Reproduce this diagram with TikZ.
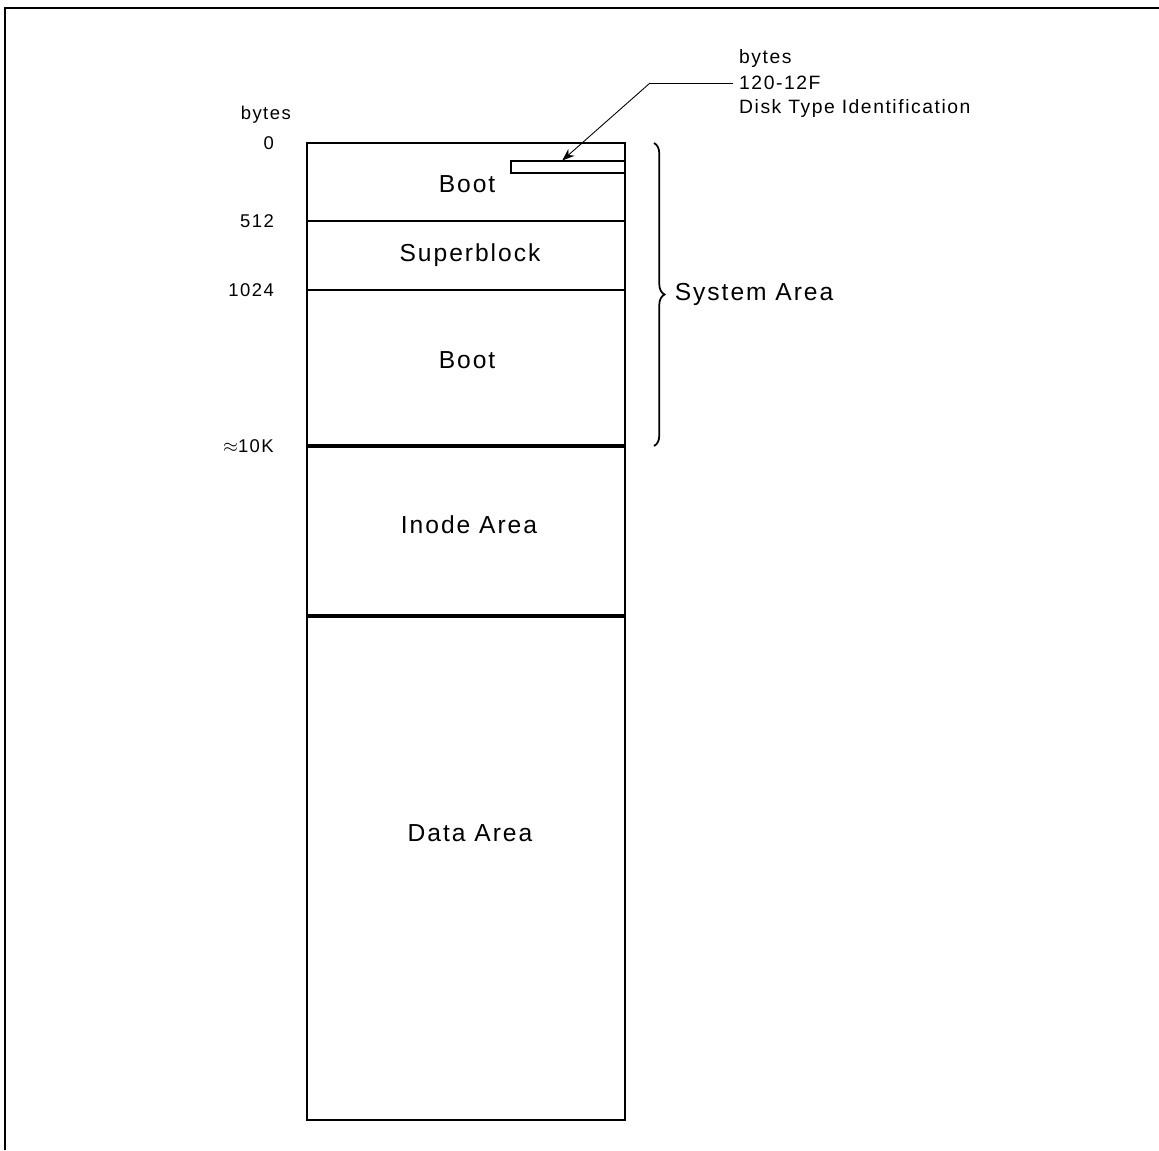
\documentclass[tikz,border=0pt]{standalone}
\usepackage{fontspec}
\setmainfont{Liberation Sans}[LetterSpace=8]
\usepackage{tikz}
\usetikzlibrary{calc,arrows.meta,decorations.pathreplacing}

\begin{document}
\begin{tikzpicture}[x=0.02cm,y=-0.02cm,>=Stealth,
    region/.style={font=\fontsize{14}{16}\selectfont},
    offset/.style={anchor=east,font=\fontsize{10.5}{12}\selectfont},
    callout/.style={anchor=west,font=\fontsize{11}{13}\selectfont}]
    \useasboundingbox (0,0) rectangle (1159,1150);
    \def\xl{307}\def\xr{625}
    % page frame (top and left edge only)
    \draw[line width=1.6pt] (5,1150) -- (5,8) -- (1159,8);
    % the disk column
    \draw[line width=0.8pt] (\xl,143) rectangle (\xr,1120);
    \draw[line width=0.6pt] (\xl,221) -- (\xr,221);
    \draw[line width=0.6pt] (\xl,290) -- (\xr,290);
    \draw[line width=2.6pt] (\xl,446) -- (\xr,446);
    \draw[line width=2.6pt] (\xl,616) -- (\xr,616);
    \node[region] (boot1) at (467,184) {Boot};
    \node[region] (superblk) at (470,255) {Superblock};
    \node[region] (boot2) at (467,360) {Boot};
    \node[region] (inode) at (469,525) {Inode Area};
    \node[region] (data) at (470,833) {Data Area};
    % byte offsets on the left
    \node[offset] (hdr) at (297,115) {bytes};
    \node[offset] (off0) at (280,143) {0};
    \node[offset] (off512) at (280,221) {512};
    \node[offset] (off1024) at (280,290) {1024};
    \node[offset] (off10k) at (280,446) {$\approx$10K};
    % disk type identification field
    \node[draw,line width=0.6pt,inner sep=0pt,minimum width=2.28cm,
      minimum height=0.24cm] (dtid) at (568,167) {};
    \node[callout] (c1) at (733,58) {bytes};
    \node[callout] (c2) at (733,83) {120-12F};
    \node[callout] (c3) at (733,108) {Disk Type Identification};
    \coordinate (elbow) at (650,83);
    \draw[line width=0.5pt] (c2.west) -- (elbow);
    \draw[-{Stealth[length=7pt]},line width=0.5pt] (elbow) -- ($(dtid.north west)!0.45!(dtid.north east)$);
    % system area brace
    \draw[decorate,decoration={brace,amplitude=6pt},line width=1pt]
      (654,143) -- (654,446)
      node[midway,right=8pt,font=\fontsize{14}{16}\selectfont] (sysarea) {System Area};
\end{tikzpicture}
\end{document}
